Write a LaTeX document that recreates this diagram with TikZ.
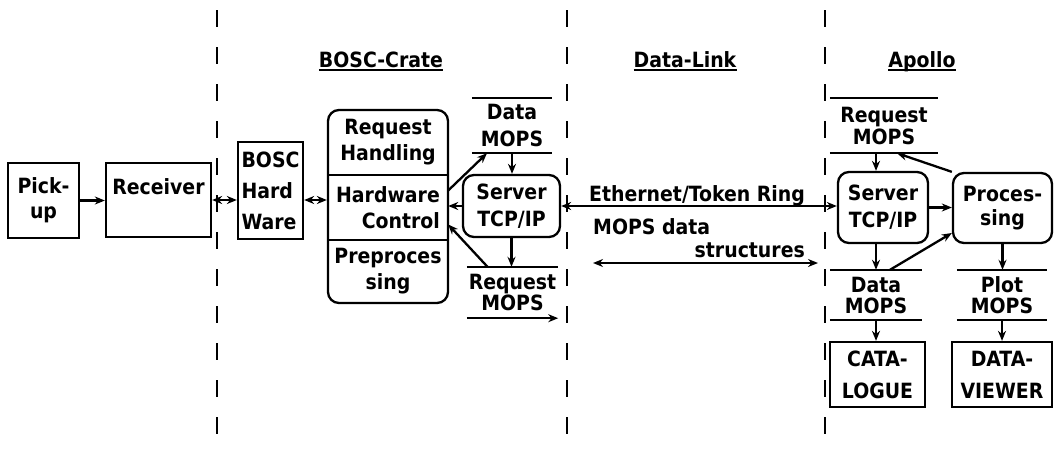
\documentclass[tikz,border=0pt]{standalone}
\usepackage{fontspec}
\setmainfont{DejaVu Sans Condensed}
\usetikzlibrary{arrows.meta}
\begin{document}
\begin{tikzpicture}[x=1pt,y=-1pt,
  every node/.style={font=\bfseries\fontsize{21}{26}\selectfont, inner sep=0pt},
  box/.style={draw, line width=2.3pt, align=center},
  rbox/.style={box, rounded corners=11pt},
  store/.style={align=center, append after command={(\tikzlastnode.north west) edge[-,line width=2.3pt] (\tikzlastnode.north east) (\tikzlastnode.south west) edge[-,line width=2.3pt] (\tikzlastnode.south east)}},
  topline/.style={align=center, append after command={(\tikzlastnode.north west) edge[-,line width=2.3pt] (\tikzlastnode.north east)}},
  conn/.style={line width=2.3pt, -{Stealth[length=10pt,width=8pt]}},
  dconn/.style={line width=2.3pt, {Stealth[length=10pt,width=8pt]}-{Stealth[length=10pt,width=8pt]}},
  divline/.style={line width=2.8pt, dash pattern=on 17pt off 20pt, dash phase=27pt},
]
\useasboundingbox (0,0) rectangle (1054,453);
% separators
\draw[divline] (217,0) -- (217,453);
\draw[divline] (567,0) -- (567,453);
\draw[divline] (825,0) -- (825,453);
% headers
\node[anchor=base] (h1) at (381,67) {BOSC-Crate};
\node[anchor=base] (h2) at (685,67) {Data-Link};
\node[anchor=base] (h3) at (922,67) {Apollo};
\foreach \h in {h1,h2,h3}
  \draw[line width=2pt] ([yshift=-3pt]\h.base west) -- ([yshift=-3pt]\h.base east);
% left part
\node[box, minimum width=71, minimum height=75, font=\bfseries\fontsize{21}{25}\selectfont] (pick) at (43.5,200.5) {Pick-\\up};
\node[box, minimum width=105, minimum height=74] (recv) at (158.5,200) {Receiver\\\mbox{}};
\node[box, minimum width=65, minimum height=97, align=left, inner xsep=2pt, font=\bfseries\fontsize{21}{31}\selectfont] (bosc) at (270.5,190.5) {BOSC\\Hard\\Ware};
% crate
\node[rbox, minimum width=120, minimum height=193] (crate) at (388,206.5) {};
\node[minimum width=120, minimum height=65, align=center] (rh) at (388,142.5) {Request\\Handling};
\node[minimum width=120, minimum height=65, align=right] (hc) at (388,207.5) {Hardware\\Control};
\node[minimum width=120, minimum height=63, align=center] (pp) at (388,271.5) {Preproces\\sing};
\draw[line width=2.3pt] (rh.south west) -- (rh.south east);
\draw[line width=2.3pt] (hc.south west) -- (hc.south east);
% BOSC server side
\node[store, minimum width=80, minimum height=55, font=\bfseries\fontsize{21}{27}\selectfont] (dm1) at (512,125.5) {Data\\MOPS};
\node[rbox, minimum width=97, minimum height=62, font=\bfseries\fontsize{21}{27}\selectfont] (srv1) at (511.5,206) {Server\\TCP/IP};
\node[topline, minimum width=91, minimum height=51, font=\bfseries\fontsize{21}{21}\selectfont] (rm1) at (512.5,292.5) {Request\\MOPS};
\draw[conn] (rm1.south west) -- (rm1.south east);
% Apollo
\node[store, minimum width=108, minimum height=55, font=\bfseries\fontsize{21}{22}\selectfont] (rm2) at (884,125.5) {Request\\MOPS};
\node[rbox, minimum width=90, minimum height=71, font=\bfseries\fontsize{21}{27}\selectfont] (srv2) at (883,207.5) {Server\\TCP/IP};
\node[rbox, minimum width=99, minimum height=70, font=\bfseries\fontsize{21}{24}\selectfont] (proc) at (1002.5,208) {Proces-\\sing};
\node[store, minimum width=92, minimum height=50, font=\bfseries\fontsize{21}{21}\selectfont] (dm2) at (876,295) {Data\\MOPS};
\node[store, minimum width=90, minimum height=50, font=\bfseries\fontsize{21}{21}\selectfont] (pm) at (1002,295) {Plot\\MOPS};
\node[box, minimum width=95, minimum height=65, font=\bfseries\fontsize{21}{32}\selectfont] (cat) at (877.5,374.5) {CATA-\\LOGUE};
\node[box, minimum width=100, minimum height=65, font=\bfseries\fontsize{21}{32}\selectfont] (dv) at (1002,374.5) {DATA-\\VIEWER};
% data link labels
\node[anchor=base] (eth) at (697,201) {Ethernet/Token Ring};
\node[anchor=base west] (md) at (593,234) {MOPS data};
\node[anchor=base east] (st) at (805,257) {structures};
\coordinate (ms1) at (593,263);
\coordinate (ms2) at (818,263);
% connectors
\draw[conn] (pick.east) -- (pick.east -| recv.west);
\draw[dconn] (recv.east) -- (recv.east -| bosc.west);
\draw[dconn] ([yshift=-9.5pt]bosc.east) -- ([yshift=-9.5pt]bosc.east -| crate.west);
\draw[conn] ([yshift=17pt]hc.east) -- ([xshift=-25pt]dm1.south);
\draw[conn] (dm1.south) -- (dm1.south |- srv1.north);
\draw[conn] (srv1.west) -- (srv1.west -| hc.east);
\draw[conn] ([xshift=-25pt]rm1.north) -- ([yshift=-17pt]hc.east);
\draw[conn] (srv1.south) -- (srv1.south |- rm1.north);
\draw[dconn] (srv1.east) -- (srv1.east -| srv2.west);
\draw[dconn] (ms1) -- (ms2);
\draw[conn] ([xshift=-8pt]rm2.south) -- ([xshift=-8pt]rm2.south |- srv2.north);
\draw[conn] (proc.north west) -- ([xshift=13pt]rm2.south);
\draw[conn] (srv2.east) -- (srv2.east -| proc.west);
\draw[conn] ([xshift=-7pt]srv2.south) -- ([xshift=-7pt]srv2.south |- dm2.north);
\draw[conn] ([xshift=14pt]dm2.north) -- ([yshift=-25pt]proc.west);
\draw[conn] (dm2.south) -- (dm2.south |- cat.north);
\draw[conn] (proc.south) -- (proc.south |- pm.north);
\draw[conn] (pm.south) -- (pm.south |- dv.north);
\end{tikzpicture}
\end{document}
